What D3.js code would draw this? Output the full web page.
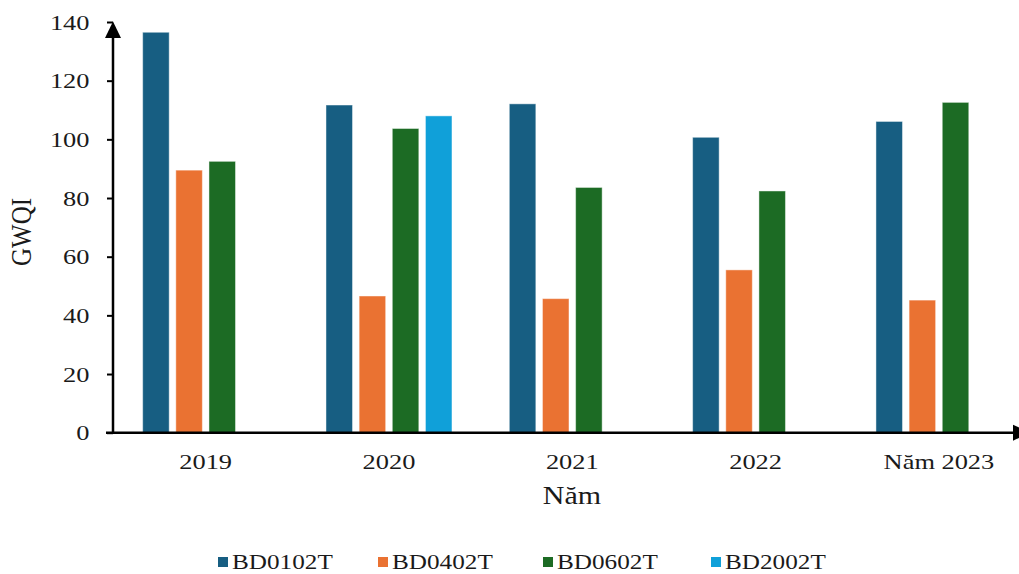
<!DOCTYPE html>
<html><head><meta charset="utf-8">
<script src="https://cdn.jsdelivr.net/npm/d3@7"></script>
<style>body{margin:0;background:#fff;} svg{display:block;} text{font-family:"Liberation Serif","Times New Roman",serif;fill:#1a1a1a;}</style>
</head><body>
<svg id="c" width="1019" height="574"></svg>
<script>
const years = ["2019","2020","2021","2022","Năm 2023"];
const seriesNames = ["BD0102T","BD0402T","BD0602T","BD2002T"];
const seriesColors = ["#175E82","#EA7232","#1C6B24","#10A0D9"];
const BD0102T = [136.5, 111.7, 112.1, 100.7, 106.1];
const BD0402T = [89.5, 46.6, 45.7, 55.5, 45.2];
const BD0602T = [92.5, 103.7, 83.6, 82.4, 112.6];
const BD2002T = [null, 108.0, null, null, null];
const yTicks = [0,20,40,60,80,100,120,140];
const xTitle = "Năm";
const yTitle = "GWQI";

const seriesValues = [BD0102T, BD0402T, BD0602T, BD2002T];
const SX = 1.2;
const svg = d3.select("#c");
const axisX = 113, y0px = 432.7, yTop = 22;

const y = d3.scaleLinear().domain([0,140]).range([y0px, yTop]);
const x0 = d3.scaleBand().domain(years).range([114, 1030.6]).paddingInner(0.2766).paddingOuter(0.1383);
const x1 = d3.scaleBand().domain(seriesNames).range([0, x0.bandwidth()]).paddingInner(0.2).paddingOuter(0.1);
const color = d3.scaleOrdinal().domain(seriesNames).range(seriesColors);

// bars
const data = [];
years.forEach((yr,i)=>seriesNames.forEach((s,j)=>{ const v=seriesValues[j][i]; if(v!=null) data.push({yr,s,v}); }));
svg.append("g").selectAll("rect").data(data).join("rect")
  .attr("x", d=>x0(d.yr)+x1(d.s))
  .attr("y", d=>y(d.v))
  .attr("width", x1.bandwidth())
  .attr("height", d=>y0px-y(d.v))
  .attr("fill", d=>color(d.s))
  .attr("stroke", "rgba(255,255,255,0.45)")
  .attr("stroke-width", 1);

// y axis
const ya = svg.append("g").attr("transform",`translate(${axisX},0)`)
  .call(d3.axisLeft(y).tickValues(yTicks).tickSize(6).tickPadding(0).tickSizeOuter(0));
ya.select(".domain").remove();
ya.selectAll(".tick line").attr("stroke","#000").attr("stroke-width",2);
ya.selectAll(".tick text").attr("x",-19.6).attr("transform",`scale(${SX},1)`)
  .style("font-size","22px").attr("fill","#1a1a1a").style("font-family","'Liberation Serif',serif");
svg.append("line").attr("x1",axisX).attr("x2",axisX).attr("y1",y0px+1).attr("y2",yTop+8)
  .attr("stroke","#000").attr("stroke-width",2.5);
svg.append("path").attr("d",`M${axisX},${yTop-0.5} L${axisX-8},${yTop+16} L${axisX+8},${yTop+16} Z`).attr("fill","#000");

// x axis
const xa = svg.append("g").attr("transform",`translate(0,${y0px})`)
  .call(d3.axisBottom(x0).tickSize(0).tickPadding(0));
xa.select(".domain").remove();
xa.selectAll(".tick text").attr("y",36.6).attr("dy",null).attr("transform",`scale(${SX},1)`)
  .style("font-size","22px").attr("fill","#1a1a1a").style("font-family","'Liberation Serif',serif");
svg.append("line").attr("x1",106).attr("x2",1016).attr("y1",y0px).attr("y2",y0px)
  .attr("stroke","#000").attr("stroke-width",2.5);
svg.append("path").attr("d",`M1030,${y0px} L1013,${y0px-8} L1013,${y0px+8} Z`).attr("fill","#000");

// titles
svg.append("text").attr("transform",`translate(572,504) scale(${SX},1)`).attr("text-anchor","middle")
  .style("font-size","25px").text(xTitle);
svg.append("text").attr("transform",`translate(31,232) scale(${SX},1) rotate(-90)`).attr("text-anchor","middle")
  .style("font-size","25px").text(yTitle);

// legend
const legX = [218, 378, 543, 711];
const leg = svg.append("g").selectAll("g").data(seriesNames).join("g")
  .attr("transform",(d,i)=>`translate(${legX[i]},562)`);
leg.append("rect").attr("x",0).attr("y",-5).attr("width",10).attr("height",10).attr("fill",d=>color(d));
leg.append("text").attr("transform",`translate(14,7) scale(${SX},1)`).style("font-size","21px").text(d=>d);
</script>
</body></html>
